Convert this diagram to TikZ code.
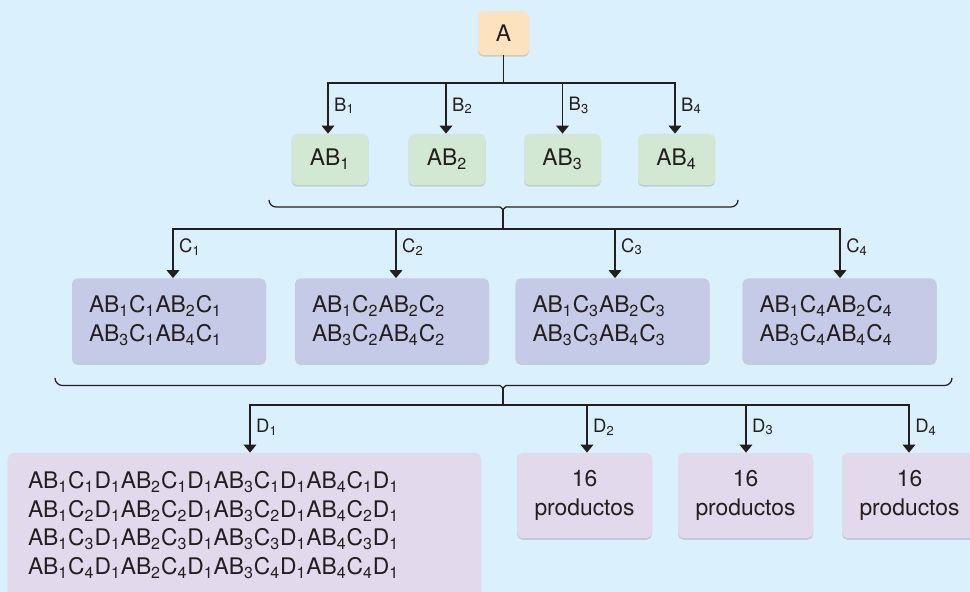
\documentclass[tikz,border=0pt]{standalone}
\usepackage{fontspec}
\setmainfont{TeX Gyre Heros}
\usetikzlibrary{arrows.meta,shadows}
\definecolor{bgblue}{HTML}{DAF0FC}
\definecolor{boxA}{HTML}{FDE2BE}
\definecolor{boxB}{HTML}{D2E8D2}
\definecolor{boxC}{HTML}{C5CBE6}
\definecolor{boxD}{HTML}{E2DAEC}
\definecolor{ink}{HTML}{231F20}
\newcommand\ix[1]{\textsubscript{#1}}

\begin{document}
\begin{tikzpicture}[>={Triangle[length=4.5pt,width=7pt]},
  box/.style={rounded corners=3pt,inner sep=0pt,text=ink,
    font=\fontsize{13}{16.3}\selectfont,
    drop shadow={shadow xshift=0pt,shadow yshift=-1pt,opacity=0.3}},
  link/.style={draw=ink,line width=1.1pt},
  bar/.style={link,line cap=rect},
  brace/.style={draw=ink,line width=0.7pt},
  lab/.style={right=2pt,inner sep=1pt,text=ink,font=\fontsize{10.5}{12}\selectfont}]
\fill[bgblue] (0,0) rectangle (19.4,11.84);
\clip (0,0) rectangle (19.4,11.84);
% first level
\node[box,fill=boxA,minimum width=1.02cm,minimum height=0.88cm] (a) at (10.07,11.18) {A};
\node[box,fill=boxB,minimum width=1.54cm,minimum height=1.02cm] (ab1) at (6.6,8.65) {AB\ix{1}};
\node[box,fill=boxB,minimum width=1.54cm,minimum height=1.02cm] (ab2) at (8.94,8.65) {AB\ix{2}};
\node[box,fill=boxB,minimum width=1.54cm,minimum height=1.02cm] (ab3) at (11.25,8.65) {AB\ix{3}};
\node[box,fill=boxB,minimum width=1.54cm,minimum height=1.02cm] (ab4) at (13.53,8.65) {AB\ix{4}};
\coordinate (ja) at (10.07,10.18);
\coordinate (jb1) at (6.56,10.18);
\coordinate (jb2) at (8.92,10.18);
\coordinate (jb3) at (11.25,10.18);
\coordinate (jb4) at (13.5,10.18);
\draw[link] (a) -- (ja);
\draw[bar] (jb1) -- (jb4);
\draw[link,->] (jb1) -- (jb1 |- ab1.north) node[lab,pos=0.45]{B\ix{1}};
\draw[link,->] (jb2) -- (jb2 |- ab2.north) node[lab,pos=0.45]{B\ix{2}};
\draw[link,->] (jb3) -- (jb3 |- ab3.north) node[lab,pos=0.45]{B\ix{3}};
\draw[link,->] (jb4) -- (jb4 |- ab4.north) node[lab,pos=0.45]{B\ix{4}};
% brace under the AB boxes
\coordinate (tb) at (10.06,7.65);
\draw[brace] (5.38,7.84) arc[start angle=180,end angle=270,radius=0.14]
  -- (10.0,7.70) -- (tb) -- (10.12,7.70) -- (14.62,7.70)
  arc[start angle=270,end angle=360,radius=0.14];
% second level
\tikzset{cbox/.style={box,fill=boxC,minimum width=3.88cm,minimum height=1.69cm,
  inner xsep=0.34cm,text width=3.2cm,align=left}}
\node[cbox] (c1) at (3.38,5.425) {AB\ix{1}C\ix{1}AB\ix{2}C\ix{1}\\AB\ix{3}C\ix{1}AB\ix{4}C\ix{1}};
\node[cbox] (c2) at (7.84,5.425) {AB\ix{1}C\ix{2}AB\ix{2}C\ix{2}\\AB\ix{3}C\ix{2}AB\ix{4}C\ix{2}};
\node[cbox] (c3) at (12.25,5.425) {AB\ix{1}C\ix{3}AB\ix{2}C\ix{3}\\AB\ix{3}C\ix{3}AB\ix{4}C\ix{3}};
\node[cbox] (c4) at (16.79,5.425) {AB\ix{1}C\ix{4}AB\ix{2}C\ix{4}\\AB\ix{3}C\ix{4}AB\ix{4}C\ix{4}};
\coordinate (jc) at (10.06,7.26);
\coordinate (jc1) at (3.46,7.26);
\coordinate (jc2) at (7.92,7.26);
\coordinate (jc3) at (12.3,7.26);
\coordinate (jc4) at (16.8,7.26);
\draw[link] (tb) -- (jc);
\draw[bar] (jc1) -- (jc4);
\draw[link,->] (jc1) -- (jc1 |- c1.north) node[lab,pos=0.36]{C\ix{1}};
\draw[link,->] (jc2) -- (jc2 |- c2.north) node[lab,pos=0.36]{C\ix{2}};
\draw[link,->] (jc3) -- (jc3 |- c3.north) node[lab,pos=0.36]{C\ix{3}};
\draw[link,->] (jc4) -- (jc4 |- c4.north) node[lab,pos=0.36]{C\ix{4}};
% brace under the C boxes
\coordinate (tc) at (10.06,4.08);
\draw[brace] (1.1,4.28) arc[start angle=180,end angle=270,radius=0.15]
  -- (10.0,4.13) -- (tc) -- (10.12,4.13) -- (18.89,4.13)
  arc[start angle=270,end angle=360,radius=0.15];
% third level
\tikzset{dbox/.style={box,fill=boxD,minimum width=2.7cm,minimum height=1.7cm,align=center}}
\node[box,fill=boxD,minimum width=9.46cm,minimum height=2.88cm,inner xsep=0.4cm,
  text width=8.66cm,align=left] (d1) at (4.89,1.34)
  {AB\ix{1}C\ix{1}D\ix{1}AB\ix{2}C\ix{1}D\ix{1}AB\ix{3}C\ix{1}D\ix{1}AB\ix{4}C\ix{1}D\ix{1}\\
   AB\ix{1}C\ix{2}D\ix{1}AB\ix{2}C\ix{2}D\ix{1}AB\ix{3}C\ix{2}D\ix{1}AB\ix{4}C\ix{2}D\ix{1}\\
   AB\ix{1}C\ix{3}D\ix{1}AB\ix{2}C\ix{3}D\ix{1}AB\ix{3}C\ix{3}D\ix{1}AB\ix{4}C\ix{3}D\ix{1}\\
   AB\ix{1}C\ix{4}D\ix{1}AB\ix{2}C\ix{4}D\ix{1}AB\ix{3}C\ix{4}D\ix{1}AB\ix{4}C\ix{4}D\ix{1}};
\node[dbox] (d2) at (11.69,1.93) {16\\productos};
\node[dbox] (d3) at (14.91,1.93) {16\\productos};
\node[dbox] (d4) at (18.19,1.93) {16\\productos};
\coordinate (jd) at (10.06,3.74);
\coordinate (jd1) at (5.0,3.74);
\coordinate (jd2) at (11.74,3.74);
\coordinate (jd3) at (14.92,3.74);
\coordinate (jd4) at (18.18,3.74);
\draw[link] (tc) -- (jd);
\draw[bar] (jd1) -- (jd4);
\draw[link,->] (jd1) -- (jd1 |- d1.north) node[lab,pos=0.46]{D\ix{1}};
\draw[link,->] (jd2) -- (jd2 |- d2.north) node[lab,pos=0.46]{D\ix{2}};
\draw[link,->] (jd3) -- (jd3 |- d3.north) node[lab,pos=0.46]{D\ix{3}};
\draw[link,->] (jd4) -- (jd4 |- d4.north) node[lab,pos=0.46]{D\ix{4}};
\end{tikzpicture}
\end{document}
